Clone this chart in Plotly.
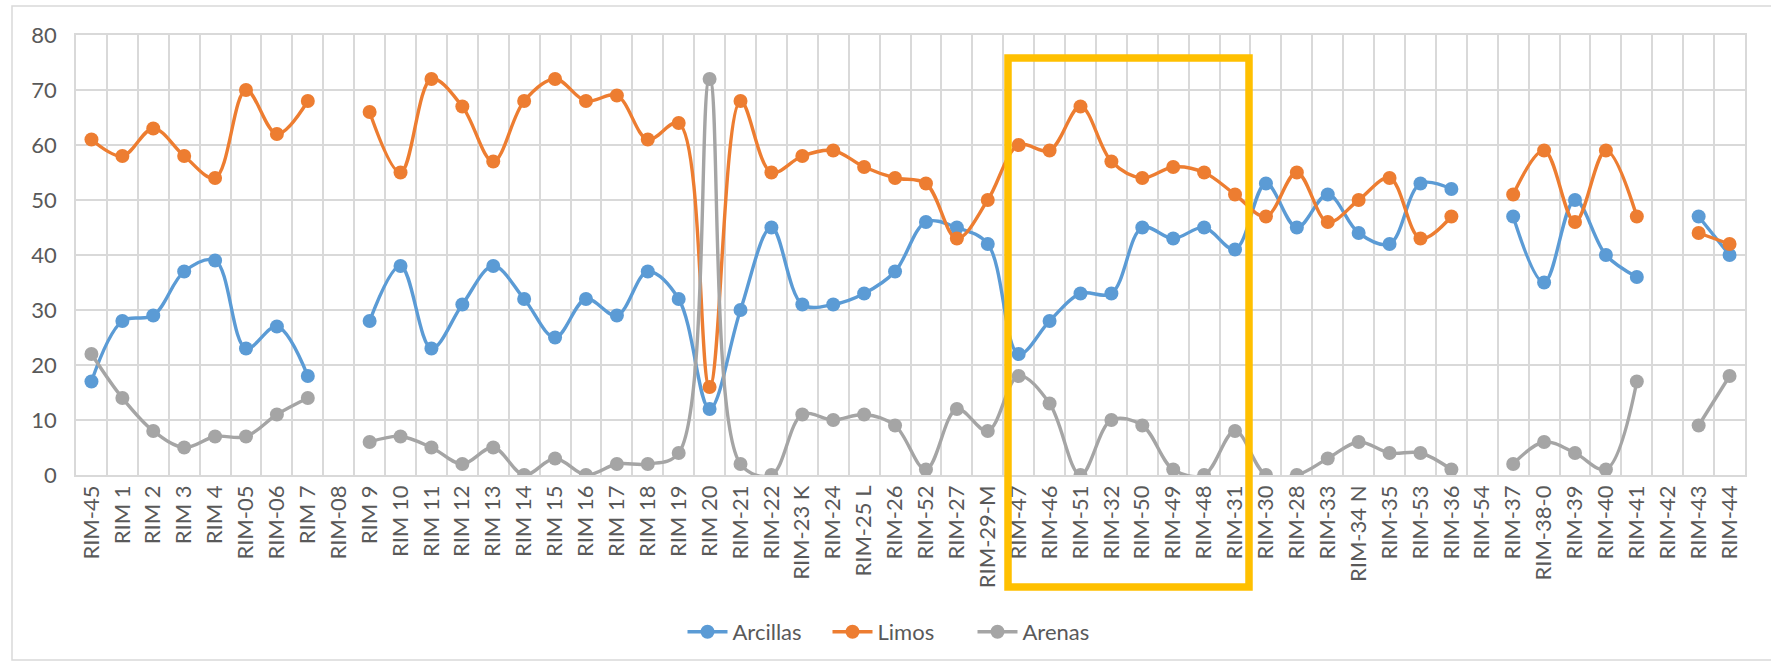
import plotly.graph_objects as go

categories = ["RIM-45", "RIM 1", "RIM 2", "RIM 3", "RIM 4", "RIM-05", "RIM-06", "RIM 7", "RIM-08",
              "RIM 9", "RIM 10", "RIM 11", "RIM 12", "RIM 13", "RIM 14", "RIM 15", "RIM 16", "RIM 17",
              "RIM 18", "RIM 19", "RIM 20", "RIM-21", "RIM-22", "RIM-23 K", "RIM-24", "RIM-25 L",
              "RIM-26", "RIM-52", "RIM-27", "RIM-29-M", "RIM-47", "RIM-46", "RIM-51", "RIM-32",
              "RIM-50", "RIM-49", "RIM-48", "RIM-31", "RIM-30", "RIM-28", "RIM-33", "RIM-34 N",
              "RIM-35", "RIM-53", "RIM-36", "RIM-54", "RIM-37", "RIM-38-0", "RIM-39", "RIM-40",
              "RIM-41", "RIM-42", "RIM-43", "RIM-44"]

arcillas = [17, 28, 29, 37, 39, 23, 27, 18, None, 28, 38, 23, 31, 38, 32, 25, 32, 29, 37, 32,
            12, 30, 45, 31, 31, 33, 37, 46, 45, 42, 22, 28, 33, 33, 45, 43, 45, 41, 53, 45,
            51, 44, 42, 53, 52, None, 47, 35, 50, 40, 36, None, 47, 40]
limos = [61, 58, 63, 58, 54, 70, 62, 68, None, 66, 55, 72, 67, 57, 68, 72, 68, 69, 61, 64,
         16, 68, 55, 58, 59, 56, 54, 53, 43, 50, 60, 59, 67, 57, 54, 56, 55, 51, 47, 55,
         46, 50, 54, 43, 47, None, 51, 59, 46, 59, 47, None, 44, 42]
arenas = [22, 14, 8, 5, 7, 7, 11, 14, None, 6, 7, 5, 2, 5, 0, 3, 0, 2, 2, 4,
          72, 2, 0, 11, 10, 11, 9, 1, 12, 8, 18, 13, 0, 10, 9, 1, 0, 8, 0, 0,
          3, 6, 4, 4, 1, None, 2, 6, 4, 1, 17, None, 9, 18]

series_names = ["Arcillas", "Limos", "Arenas"]
series_values = [arcillas, limos, arenas]
series_colors = ["#5B9BD5", "#ED7D31", "#A5A5A5"]

FONT = "Lato, 'Liberation Sans', Arial, sans-serif"
TXT = "#595959"
GRID = "#D9D9D9"

fig = go.Figure()
for name, vals, col in zip(series_names, series_values, series_colors):
    fig.add_trace(go.Scatter(
        x=categories, y=vals, name=name, mode="lines+markers",
        line=dict(color=col, width=3.4, shape="spline", smoothing=1.0),
        marker=dict(color=col, size=14),
        connectgaps=False,
    ))

W, H = 1771, 665
L, R, T, B = 76, 26, 35, 190
pw = W - L - R
ph = H - T - B


def px_x(p):
    return (p - L) / pw


def px_y(p):
    return (H - B - p) / ph


fig.update_layout(
    width=W, height=H,
    margin=dict(l=L, r=R, t=T, b=B, pad=0),
    paper_bgcolor="white", plot_bgcolor="white",
    font=dict(family=FONT, color=TXT, size=21),
    showlegend=True,
    legend=dict(orientation="h", x=px_x(900), xanchor="center", y=px_y(632), yanchor="middle",
                font=dict(family=FONT, size=22, color=TXT), itemwidth=40,
                entrywidth=90, entrywidthmode="pixels",
                bgcolor="rgba(0,0,0,0)"),
    xaxis=dict(
        type="category", range=[-0.5, len(categories) - 0.5],
        tickson="boundaries", showgrid=True, gridcolor=GRID, gridwidth=1.5,
        showline=True, linecolor=GRID, linewidth=1.5, mirror=True,
        ticks="outside", ticklen=12, tickcolor="rgba(0,0,0,0)",
        tickangle=-90, tickfont=dict(family=FONT, size=22, color=TXT),
        fixedrange=True,
    ),
    yaxis=dict(
        range=[0, 80], dtick=10, tick0=0,
        showgrid=True, gridcolor=GRID, gridwidth=1.5,
        zeroline=False,
        showline=True, linecolor=GRID, linewidth=1.5, mirror=True,
        ticks="", ticklabelstandoff=13,
        tickfont=dict(family=FONT, size=22, color=TXT),
        fixedrange=True,
    ),
    shapes=[
        dict(type="rect", xref="paper", yref="paper",
             x0=px_x(12), x1=px_x(W + 5), y0=px_y(660), y1=px_y(6),
             line=dict(color=GRID, width=1.5), fillcolor="rgba(0,0,0,0)", layer="below"),
        dict(type="rect", xref="paper", yref="paper",
             x0=px_x(1008), x1=px_x(1249), y0=px_y(587), y1=px_y(58),
             line=dict(color="#FFC000", width=7.5), fillcolor="rgba(0,0,0,0)", layer="above"),
    ],
)

fig.write_html("out.html", config={"displayModeBar": False},
               post_script="document.body.style.margin='0';")
